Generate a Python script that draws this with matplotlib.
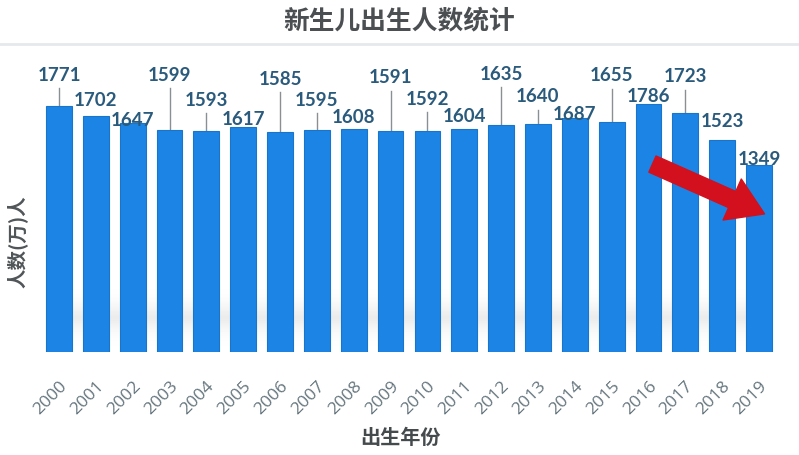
import matplotlib
matplotlib.use("Agg")
import matplotlib.pyplot as plt
import numpy as np
from matplotlib.lines import Line2D

plt.rcParams['font.family'] = ['Noto Sans CJK SC', 'DejaVu Sans']

years = ['2000', '2001', '2002', '2003', '2004', '2005', '2006', '2007', '2008', '2009',
         '2010', '2011', '2012', '2013', '2014', '2015', '2016', '2017', '2018', '2019']
births = [1771, 1702, 1647, 1599, 1593, 1617, 1585, 1595, 1608, 1591,
          1592, 1604, 1635, 1640, 1687, 1655, 1786, 1723, 1523, 1349]
# label heights (data units) as laid out in the original
label_y = [1994, 1807, 1670, 1994, 1814, 1677, 1965, 1814, 1685, 1973,
           1821, 1692, 2001, 1836, 1713, 1987, 1836, 1980, 1656, 1389]

title = '新生儿出生人数统计'
xlabel = '出生年份'
ylabel = '人数(万)人'

W, H = 799, 455
fig = plt.figure(figsize=(W / 100, H / 100), dpi=100)
fig.patch.set_facecolor('white')

# axes placement in pixels
left_px, right_px = 40.6, 777.4
base_px, top_px = 352.0, 60.3
ax = fig.add_axes([left_px / W, (H - base_px) / H, (right_px - left_px) / W, (base_px - top_px) / H])
ax.set_facecolor('none')

x = np.arange(len(years))

# soft shadow band behind lower part of bars
sh = np.exp(-((np.linspace(0, 1, 80) - 0.55) ** 2) / 0.05)
img = np.tile(sh[:, None], (1, 400))
ax.imshow(img, extent=[-0.3, 19.3, 0, 450], aspect='auto', cmap='Greys',
          vmin=0, vmax=6, alpha=0.8, zorder=0, origin='lower', interpolation='bicubic')

ax.bar(x, births, width=0.70, color='#1c84e4', edgecolor='#1a74cc', linewidth=0.8, zorder=2)

lab_color = '#2a5a7c'
for xi, v, ly in zip(x, births, label_y):
    ax.text(xi, ly, str(v), ha='center', va='center', fontsize=13.5,
            fontweight='bold', color=lab_color, family=['Lato', 'DejaVu Sans'], zorder=4)
    line_top = ly - 96
    if line_top - v > 50:
        ax.plot([xi, xi], [v, line_top], color='#8a8f93', lw=1.0, zorder=1)

ax.set_xlim(-0.5, 19.5)
ax.set_ylim(0, 2100)
ax.set_yticks([])
ax.set_xticks(x)
ax.set_xticklabels(years, rotation=45, ha='right', rotation_mode='anchor',
                   fontsize=12.5, color='#66767e', family=['Open Sans', 'DejaVu Sans'])
ax.tick_params(axis='x', length=0, pad=19)
for s in ax.spines.values():
    s.set_visible(False)

# red trend arrow
ax.annotate('', xy=(19.22, 986), xytext=(16.04, 1361),
            arrowprops=dict(arrowstyle='simple,head_length=1.5,head_width=1.9,tail_width=0.75',
                            color='#d2101e', mutation_scale=17), zorder=5)

# title and separator
fig.text(399 / W, 1 - 22 / H, title, ha='center', va='center', fontsize=18.5,
         fontweight='bold', color='#4b4f52')
fig.add_artist(Line2D([0, 1], [1 - 44 / H, 1 - 44 / H], color='#e6e9eb', lw=2, transform=fig.transFigure))

fig.text(400 / W, 1 - 437 / H, xlabel, ha='center', va='center', fontsize=14.5,
         fontweight='bold', color='#454a4d')
fig.text(17 / W, 1 - 242 / H, ylabel, ha='center', va='center', fontsize=14,
         rotation=90, fontweight='bold', color='#505558')

fig.savefig('out.png', dpi=100, facecolor=fig.get_facecolor())
